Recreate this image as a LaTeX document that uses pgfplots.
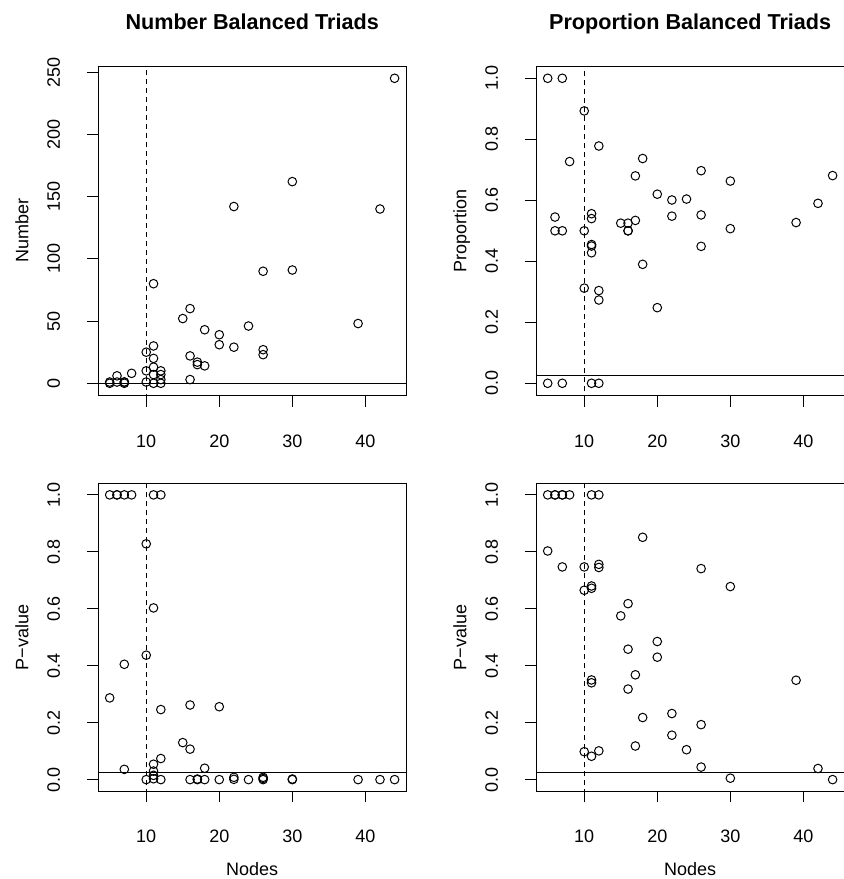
\documentclass[border=0pt]{standalone}
\usepackage{fontspec}
\setmainfont{Liberation Sans}
\usepackage{pgfplots}
\pgfplotsset{compat=1.18}

\newcommand{\ticksize}{\fontsize{18bp}{21.6bp}\selectfont}
\newcommand{\titlesize}{\fontsize{21.6bp}{26bp}\selectfont\bfseries}

\pgfplotsset{
  panel/.style={
    scale only axis,
    width=307.7bp,
    xmin=3.44, xmax=45.56,
    xtick={10,20,30,40},
    tick align=outside,
    xtick pos=bottom, ytick pos=left,
    major tick length=11.5bp,
    axis line style={line width=0.9bp},
    tick style={line width=0.9bp,black},
    every tick label/.append style={font=\ticksize,inner sep=0pt},
    xticklabel style={anchor=north},
    yticklabel style={rotate=90,anchor=south},
    xticklabel shift=27.6bp,
    yticklabel shift=26.6bp,
    /pgf/number format/assume math mode=true,
  },
  pval/.style={
    ymin=-0.04, ymax=1.04,
    ytick={0,0.2,0.4,0.6,0.8,1},
    yticklabel style={/pgf/number format/.cd,fixed,fixed zerofill,precision=1},
  },
  pts/.style={only marks,mark=o,mark size=4.3bp,mark options={line width=1bp},black},
  vline/.style={line width=0.9bp,black,dash pattern=on 5bp off 4bp},
  hline/.style={line width=0.9bp,black},
}

\begin{document}
\begin{tikzpicture}

% top left: number of balanced triads
\begin{axis}[panel, at={(98.3bp,483.5bp)}, anchor=south west,
  height=329.4bp, ymin=-9.8, ymax=254.8, ytick={0,50,100,150,200,250}]
  \addplot[vline] coordinates {(10,-20) (10,300)};
  \addplot[hline] coordinates {(0,0) (50,0)};
  \addplot[pts] coordinates {
    (5,1) (5,0) (6,6) (6,1) (7,1) (7,1) (7,0) (8,8)
    (10,25) (10,10) (10,1)
    (11,80) (11,30) (11,20) (11,13) (11,7) (11,0)
    (12,10) (12,7) (12,3) (12,0)
    (15,52) (16,60) (16,22) (16,3) (17,17) (17,15) (18,43) (18,14)
    (20,39) (20,31) (22,142) (22,29) (24,46) (26,90) (26,27) (26,23)
    (30,162) (30,91) (39,48) (42,140) (44,245)};
\end{axis}

% top right: proportion balanced
\begin{axis}[panel, pval, at={(536.3bp,483.5bp)}, anchor=south west,
  height=329.4bp]
  \addplot[vline] coordinates {(10,-1) (10,2)};
  \addplot[hline] coordinates {(0,0.025) (50,0.025)};
  \addplot[pts] coordinates {
    (5,1) (5,0) (6,0.545) (6,0.5) (7,1) (7,0.5) (7,0) (8,0.727)
    (10,0.893) (10,0.5) (10,0.312)
    (11,0.556) (11,0.54) (11,0.455) (11,0.45) (11,0.428) (11,0)
    (12,0.778) (12,0.304) (12,0.273) (12,0)
    (15,0.525) (16,0.525) (16,0.5) (16,0.5) (17,0.68) (17,0.534)
    (18,0.737) (18,0.39) (20,0.62) (20,0.248) (22,0.601) (22,0.548)
    (24,0.604) (26,0.697) (26,0.552) (26,0.449) (30,0.663) (30,0.507)
    (39,0.527) (42,0.59) (44,0.681)};
\end{axis}

% bottom left: p-value
\begin{axis}[panel, pval, at={(98.3bp,88bp)}, anchor=south west,
  height=307.5bp]
  \addplot[vline] coordinates {(10,-1) (10,2)};
  \addplot[hline] coordinates {(0,0.025) (50,0.025)};
  \addplot[pts] coordinates {
    (5,1) (5,0.287) (6,1) (6,1) (7,1) (7,0.405) (7,0.036) (8,1)
    (10,0.828) (10,0.437) (10,0)
    (11,1) (11,0.603) (11,0.054) (11,0.03) (11,0.015) (11,0.003)
    (12,1) (12,0.246) (12,0.074) (12,0)
    (15,0.13) (16,0.262) (16,0.107) (16,0) (17,0) (17,0.002)
    (18,0.04) (18,0) (20,0.256) (20,0) (22,0.001) (22,0.008)
    (24,0) (26,0) (26,0.004) (26,0.008) (30,0) (30,0.002)
    (39,0) (42,0) (44,0)};
\end{axis}

% bottom right: p-value
\begin{axis}[panel, pval, at={(536.3bp,88bp)}, anchor=south west,
  height=307.5bp]
  \addplot[vline] coordinates {(10,-1) (10,2)};
  \addplot[hline] coordinates {(0,0.025) (50,0.025)};
  \addplot[pts] coordinates {
    (5,1) (5,0.803) (6,1) (6,1) (7,1) (7,1) (7,0.747) (8,1)
    (10,0.747) (10,0.665) (10,0.098)
    (11,1) (11,0.68) (11,0.672) (11,0.35) (11,0.34) (11,0.082)
    (12,1) (12,0.756) (12,0.745) (12,0.101)
    (15,0.575) (16,0.618) (16,0.458) (16,0.318) (17,0.368) (17,0.118)
    (18,0.851) (18,0.218) (20,0.485) (20,0.43) (22,0.232) (22,0.156)
    (24,0.105) (26,0.741) (26,0.193) (26,0.044) (30,0.678) (30,0.005)
    (39,0.349) (42,0.039) (44,0)};
\end{axis}

% titles and axis labels
\node[anchor=base,font=\titlesize] at (252.15bp,849bp) {Number Balanced Triads};
\node[anchor=base,font=\titlesize] at (690.15bp,849bp) {Proportion Balanced Triads};
\node[rotate=90,anchor=base,font=\ticksize,inner sep=0pt] at (28.3bp,648.2bp) {Number};
\node[rotate=90,anchor=base,font=\ticksize,inner sep=0pt] at (466.3bp,648.2bp) {Proportion};
\node[rotate=90,anchor=base,font=\ticksize,inner sep=0pt] at (28.3bp,241.75bp) {P−value};
\node[rotate=90,anchor=base,font=\ticksize,inner sep=0pt] at (466.3bp,241.75bp) {P−value};
\node[anchor=base,font=\ticksize,inner sep=0pt] at (252.15bp,4bp) {Nodes};
\node[anchor=base,font=\ticksize,inner sep=0pt] at (690.15bp,4bp) {Nodes};

\pgfresetboundingbox
\path[use as bounding box] (0,0) rectangle (844bp,879bp);
\end{tikzpicture}
\end{document}
